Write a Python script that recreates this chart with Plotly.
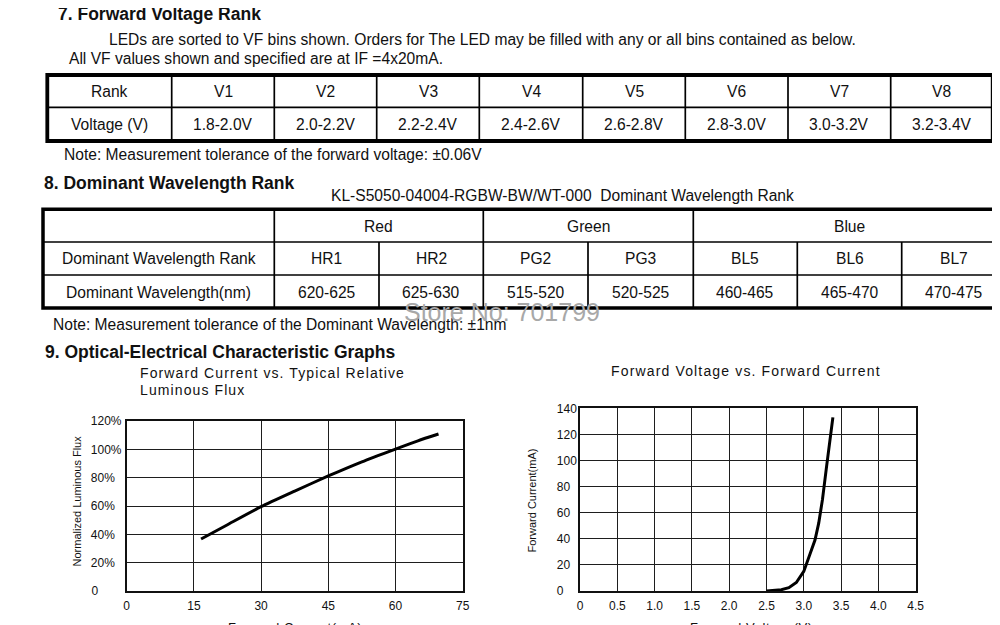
import plotly.graph_objects as go

W, H = 1000, 625
OFF = 8  # the page places the figure 8px from the window's top-left corner

# ---------------- data ----------------
vf_ranks = ["V1", "V2", "V3", "V4", "V5", "V6", "V7", "V8"]
vf_ranges = ["1.8-2.0V", "2.0-2.2V", "2.2-2.4V", "2.4-2.6V",
             "2.6-2.8V", "2.8-3.0V", "3.0-3.2V", "3.2-3.4V"]

wl_groups = ["Red", "Green", "Blue"]
wl_group_sizes = [2, 2, 3]
wl_ranks = ["HR1", "HR2", "PG2", "PG3", "BL5", "BL6", "BL7"]
wl_ranges = ["620-625", "625-630", "515-520", "520-525",
             "460-465", "465-470", "470-475"]

flux_current_ma = [16.6, 22.5, 30, 37.5, 45, 52.5, 60, 65, 69.6]
flux_relative_pct = [36.7, 46.8, 59.5, 70.5, 81.2, 91.2, 100.2, 106, 110.8]

iv_voltage_v = [2.5, 2.6, 2.7, 2.8, 2.9, 3.0, 3.1, 3.15, 3.2, 3.25, 3.3, 3.35, 3.39]
iv_current_ma = [0, 0.5, 1.0, 2.5, 6.5, 15, 30, 39, 52, 70, 93, 113, 133]

flux_x_ticks = [0, 15, 30, 45, 60, 75]
flux_y_ticks = [0, 20, 40, 60, 80, 100, 120]
flux_y_labels = ["0", "20%", "40%", "60%", "80%", "100%", "120%"]
iv_x_ticks = [0, 0.5, 1.0, 1.5, 2.0, 2.5, 3.0, 3.5, 4.0, 4.5]
iv_x_labels = ["0", "0.5", "1.0", "1.5", "2.0", "2.5", "3.0", "3.5", "4.0", "4.5"]
iv_y_ticks = [0, 20, 40, 60, 80, 100, 120, 140]
iv_y_labels = ["0", "20", "40", "60", "80", "100", "120", "140"]

# ---------------- helpers ----------------
FONT = "Liberation Sans"
INK = "#111111"
NB = "\u00a0"


def px(x):
    return (x - OFF) / W


def py(y):
    return 1 - (y - OFF) / H


shapes = []
annotations = []


def line(x0, y0, x1, y1, w=1.7, color="black"):
    shapes.append(dict(type="line", xref="paper", yref="paper",
                       x0=px(x0), x1=px(x1), y0=py(y0), y1=py(y1),
                       line=dict(color=color, width=w)))


def rect(x0, y0, x1, y1, w):
    shapes.append(dict(type="rect", xref="paper", yref="paper",
                       x0=px(x0), x1=px(x1), y0=py(y0), y1=py(y1),
                       line=dict(color="black", width=w), fillcolor="rgba(0,0,0,0)"))


def text(s, x, y, size=15.6, anchor="left", bold=False, color=INK, angle=0, spacing=None):
    if spacing is not None:
        s = '<span style="letter-spacing:%spx">%s</span>' % (spacing, s)
    annotations.append(dict(text=s, xref="paper", yref="paper", x=px(x), y=py(y),
                            xanchor=anchor, yanchor="middle", showarrow=False,
                            textangle=angle,
                            font=dict(family=FONT, size=size, color=color,
                                      weight="bold" if bold else "normal")))


# ---------------- section 7 ----------------
text("7. Forward Voltage Rank", 56, 14, size=17.5, bold=True)
text("LEDs are sorted to VF bins shown. Orders for The LED may be filled with any or all bins contained as below.",
     107, 39.5)
text("All VF values shown and specified are at IF =4x20mA.", 67, 58.5)

t1_cols = [47.3, 171.7, 274.3, 376.7, 479.3, 582.7, 685.3, 788, 890.7, 992.7]
t1_top, t1_mid, t1_bot = 75, 107.3, 141
for c in t1_cols[1:-1]:
    line(c, t1_top, c, t1_bot)
line(t1_cols[0], t1_mid, t1_cols[-1], t1_mid)
rect(t1_cols[0], t1_top, t1_cols[-1], t1_bot, 3.8)
r1 = (t1_top + t1_mid) / 2 + 0.5
r2 = (t1_mid + t1_bot) / 2 + 0.5
text("Rank", (t1_cols[0] + t1_cols[1]) / 2, r1, anchor="center")
text("Voltage (V)", (t1_cols[0] + t1_cols[1]) / 2, r2, anchor="center")
for i, (rk, rg) in enumerate(zip(vf_ranks, vf_ranges)):
    cx = (t1_cols[i + 1] + t1_cols[i + 2]) / 2
    text(rk, cx, r1, anchor="center")
    text(rg, cx, r2, anchor="center")
text("Note: Measurement tolerance of the forward voltage: \u00b10.06V", 62, 154.5)

# ---------------- section 8 ----------------
text("8. Dominant Wavelength Rank", 42, 183.5, size=17.5, bold=True)
text("KL-S5050-04004-RGBW-BW/WT-000" + NB + NB + "Dominant Wavelength Rank", 329, 196)

t2_left, t2_first, t2_right = 43, 274.3, 1006
t2_top, t2_r1, t2_r2, t2_bot = 209.3, 242, 275, 308
sub_cols = [274.3, 379, 483.3, 588, 693.3, 797.3, 901.7, 1006]
line(t2_left, t2_r1, 1010, t2_r1)
line(t2_left, t2_r2, 1010, t2_r2)
k = 0
group_bounds = [0]
for n in wl_group_sizes:
    k += n
    group_bounds.append(k)
for gi in group_bounds[:-1]:
    line(sub_cols[gi], t2_top, sub_cols[gi], t2_bot)
for i in range(1, len(sub_cols) - 1):
    if i not in group_bounds:
        line(sub_cols[i], t2_r1, sub_cols[i], t2_bot)
rect(t2_left, t2_top, 1012, t2_bot, 3.5)

rw1 = (t2_top + t2_r1) / 2 + 0.5
rw2 = (t2_r1 + t2_r2) / 2 + 0.5
rw3 = (t2_r2 + t2_bot) / 2 + 0.5
for g, a, b in zip(wl_groups, group_bounds[:-1], group_bounds[1:]):
    text(g, (sub_cols[a] + sub_cols[b]) / 2, rw1, anchor="center")
text("Dominant Wavelength Rank", (t2_left + t2_first) / 2, rw2, anchor="center")
text("Dominant Wavelength(nm)", (t2_left + t2_first) / 2, rw3, anchor="center")
for i, (rk, rg) in enumerate(zip(wl_ranks, wl_ranges)):
    cx = (sub_cols[i] + sub_cols[i + 1]) / 2
    text(rk, cx, rw2, anchor="center")
    text(rg, cx, rw3, anchor="center")
text("Note: Measurement tolerance of the Dominant Wavelength: \u00b11nm", 51, 324.5)
text("Store No: 701799", 402, 312, size=25, color="#a8a8a8")

# ---------------- section 9 ----------------
text("9. Optical-Electrical Characteristic Graphs", 43, 352, size=17.5, bold=True)
text("Forward Current vs. Typical Relative", 138, 372.5, size=14, spacing=1.1)
text("Luminous Flux", 138, 389.5, size=14, spacing=1.1)
text("Forward Voltage vs. Forward Current", 609, 371, size=14, spacing=1.15)
text("Normalized Luminous Flux", 76, 501.5, size=11, anchor="center", angle=-90)
text("Forward Current(mA)", 531.5, 501, size=11, anchor="center", angle=-90)
text("Forward Current(mA)", 295, 627.5, size=13, anchor="center", spacing=0.6)
text("Forward Voltage(V)", 751, 627.5, size=13, anchor="center", spacing=0.6)


def pad_left(labels):
    # emulate left-aligned tick labels with non-breaking spaces
    widths = {c: 2.0 for c in "0123456789"}
    widths["%"] = 3.2
    widths["."] = 1.0
    ws = [sum(widths.get(c, 2.0) for c in s) for s in labels]
    m = max(ws)
    return [s + NB * int(round(m - w)) for s, w in zip(labels, ws)]


# ---------------- charts ----------------
fig = go.Figure()
fig.add_trace(go.Scatter(x=flux_current_ma, y=flux_relative_pct, mode="lines",
                         line=dict(color="black", width=3, shape="spline", smoothing=0.6),
                         xaxis="x", yaxis="y", showlegend=False, hoverinfo="skip"))
fig.add_trace(go.Scatter(x=iv_voltage_v, y=iv_current_ma, mode="lines",
                         line=dict(color="black", width=3),
                         xaxis="x2", yaxis="y2", showlegend=False, hoverinfo="skip"))

axis_common = dict(showgrid=True, gridcolor="#1e1e1e", gridwidth=1.2,
                   showline=True, linecolor="#111", linewidth=1.5, mirror=True,
                   zeroline=False, ticks="", fixedrange=True, automargin=False,
                   tickfont=dict(family=FONT, size=12, color=INK))

fig.update_layout(
    width=W, height=H,
    margin=dict(l=0, r=0, t=0, b=0, pad=0, autoexpand=False),
    paper_bgcolor="white", plot_bgcolor="white",
    font=dict(family=FONT, color=INK),
    showlegend=False,
    xaxis=dict(domain=[px(126.7), px(462.7)], range=[0, 75], anchor="y",
               tickvals=flux_x_ticks, ticktext=[str(v) for v in flux_x_ticks],
               ticklabelstandoff=3, **axis_common),
    yaxis=dict(domain=[py(591), py(421)], range=[0, 120], anchor="x",
               tickvals=flux_y_ticks, ticktext=pad_left(flux_y_labels),
               ticklabelstandoff=1, **axis_common),
    xaxis2=dict(domain=[px(580), px(915.7)], range=[0, 4.5], anchor="y2",
                tickvals=iv_x_ticks, ticktext=iv_x_labels,
                ticklabelstandoff=3, **axis_common),
    yaxis2=dict(domain=[py(591), py(408.3)], range=[0, 140], anchor="x2",
                tickvals=iv_y_ticks, ticktext=pad_left(iv_y_labels),
                ticklabelstandoff=-1, **axis_common),
    shapes=shapes,
    annotations=annotations,
)

fig.write_html("out.html")
